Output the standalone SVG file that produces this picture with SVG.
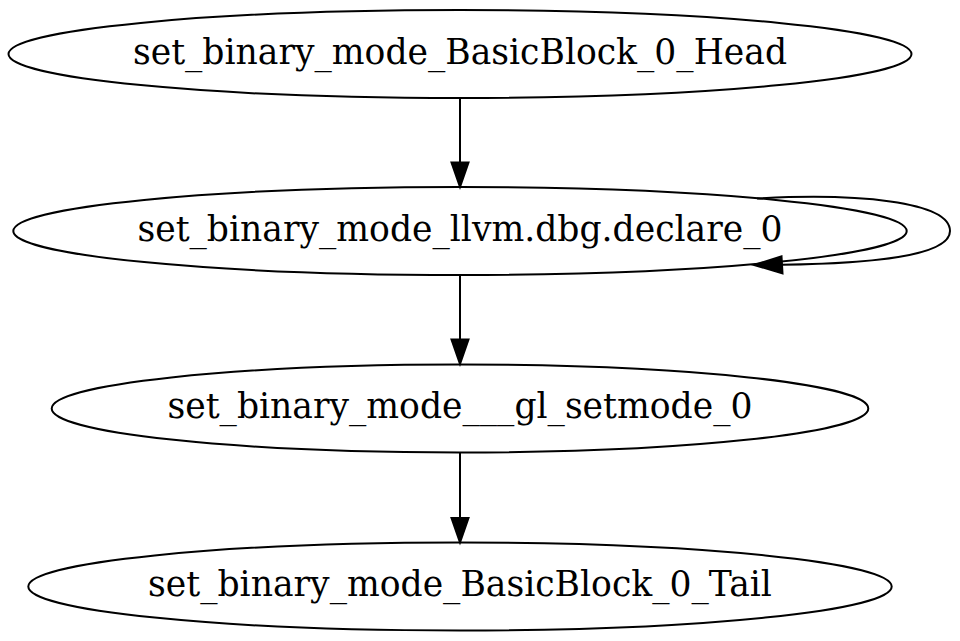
<svg xmlns="http://www.w3.org/2000/svg" width="960" height="641" viewBox="0 0 960 641">
<style>
.node ellipse{fill:none;stroke:#000;stroke-width:2}
.node text{font-family:"DejaVu Serif",serif;font-size:34.6px;text-anchor:middle;fill:#000}
.edge path{fill:none;stroke:#000;stroke-width:2}
.edge polygon{fill:#000;stroke:#000;stroke-width:2}
</style>
<rect width="960" height="641" fill="#fff"/>
<g id="edges">
<g class="edge" id="e_head_declare"><path d="M460,98.5 L460,162.5"/><polygon points="451.5,162.5 468.5,162.5 460,187"/></g>
<g class="edge" id="e_declare_self"><path d="M757,198.5 C855,193 950,201 950,231 C950,256 872,263.5 782,264.8"/><polygon points="781.5,256.3 782.5,273.3 754,265"/></g>
<g class="edge" id="e_declare_setmode"><path d="M460,275 L460,339.5"/><polygon points="451.5,339.5 468.5,339.5 460,364"/></g>
<g class="edge" id="e_setmode_tail"><path d="M460,452.5 L460,518"/><polygon points="451.5,518 468.5,518 460,542.5"/></g>
</g>
<g class="node" id="n_head"><ellipse cx="460" cy="54" rx="451.5" ry="44"/><text x="460" y="63.5">set_binary_mode_BasicBlock_0_Head</text></g>
<g class="node" id="n_declare"><ellipse cx="460" cy="231" rx="446.7" ry="44"/><text x="460" y="240.5">set_binary_mode_llvm.dbg.declare_0</text></g>
<g class="node" id="n_setmode"><ellipse cx="460" cy="408.5" rx="408.3" ry="44"/><text x="460" y="418">set_binary_mode___gl_setmode_0</text></g>
<g class="node" id="n_tail"><ellipse cx="460" cy="586.5" rx="431.7" ry="44"/><text x="460" y="596">set_binary_mode_BasicBlock_0_Tail</text></g>
</svg>
